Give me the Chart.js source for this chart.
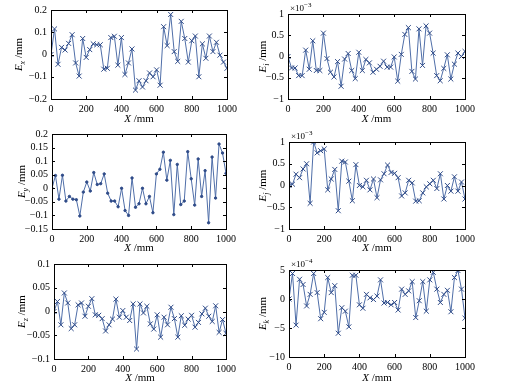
<!DOCTYPE html>
<html>
<head>
<meta charset="utf-8">
<script src="https://cdn.jsdelivr.net/npm/chart.js@4.4.0/dist/chart.umd.min.js"></script>
<style>
  body { margin: 0; background: #fff; }
  #wrap { position: relative; width: 518px; height: 385px; }
  canvas { position: absolute; }
</style>
</head>
<body>
<div id="wrap"></div>
<script>
// positions along the guide, mm
var xValues = [0,20,40,60,80,100,120,140,160,180,200,220,240,260,280,300,320,340,360,380,
  400,420,440,460,480,500,520,540,560,580,600,620,640,660,680,700,720,740,760,780,
  800,820,840,860,880,900,920,940,960,980,1000];

// Ex, mm
var exValues = [0,0.115,-0.044,0.032,0.02,0.05,0.089,-0.038,-0.097,0.072,-0.013,0.022,0.048,0.044,0.044,
  -0.066,-0.062,0.076,0.082,-0.048,0.076,-0.09,-0.038,0.025,-0.16,-0.118,-0.146,-0.118,-0.083,-0.1,
  -0.069,-0.138,0.125,0.04,0.18,0.013,-0.031,0.149,0.072,-0.034,0.062,0.083,-0.1,0.048,-0.017,
  0.083,0.013,0.055,-0.003,-0.034,-0.062];
// Ei, x10^-3 mm
var eiValues = [0,-0.27,-0.27,-0.45,-0.45,0.15,-0.3,0.37,-0.33,-0.33,0.55,-0.05,-0.37,-0.48,-0.12,
  -0.7,-0.06,0.07,-0.33,-0.52,0.1,-0.33,-0.07,-0.15,-0.37,-0.3,-0.23,-0.11,-0.25,-0.25,
  -0.01,-0.58,0.05,0.52,0.68,-0.35,-0.53,0.65,-0.21,0.72,0.55,0.08,-0.45,-0.57,-0.28,
  0.04,-0.53,-0.18,0.08,0.0,0.12];
// Ey, mm
var eyValues = [0,0.047,-0.04,0.048,-0.047,-0.03,-0.04,-0.042,-0.102,-0.014,0.023,-0.01,0.058,0.014,0.017,
  0.053,-0.018,-0.047,-0.047,-0.068,0,-0.082,-0.1,0.038,-0.07,-0.057,0,-0.057,-0.03,-0.09,
  0.053,0.07,0.133,0.03,0.103,-0.097,0.088,-0.06,-0.047,0.135,0.035,-0.062,0.108,-0.03,0.065,
  -0.127,0.115,-0.036,0.163,0.13,0.055];
// Ej, x10^-3 mm
var ejValues = [0,0.03,0.26,0.18,0.38,0.5,-0.41,1.0,0.75,0.8,0.84,-0.1,0.15,0.37,-0.58,
  0.56,0.54,0.1,-0.35,0.48,0,-0.03,0.12,-0.1,0.15,-0.28,0.13,0.27,0.47,0.3,
  0.28,0.18,-0.24,-0.17,0.12,0.06,-0.36,-0.35,-0.17,-0.03,0.04,0.12,-0.07,0.27,-0.31,
  0,-0.13,0.2,-0.13,0.08,-0.31];
// Ez, mm
var ezValues = [0,0.021,-0.028,0.039,0.018,-0.036,-0.028,0.014,0.018,-0.01,0.011,0.027,-0.007,-0.008,-0.015,
  -0.041,-0.028,-0.016,0.026,-0.012,0.002,-0.012,-0.019,0.016,-0.079,0.016,-0.003,0.011,-0.026,-0.037,
  -0.007,-0.054,-0.012,-0.028,0.009,-0.015,-0.054,-0.009,-0.029,-0.016,-0.008,-0.033,-0.023,-0.005,0.007,
  -0.01,-0.021,0.012,-0.044,-0.017,-0.046];
// Ek, x10^-4 mm
var ekValues = [0,4.4,-4.5,3.4,2.5,-1.2,0.8,4.4,1.1,-3.4,-2.3,3.7,1.1,2.3,-5.9,
  -1.5,-2.1,-4.8,4.1,4.1,-1.0,-1.6,0.8,0.2,-0.1,0.5,3.3,-0.7,-0.6,-1.0,
  -0.6,-1.9,1.7,0.8,1.4,3.0,-3.2,-0.3,3.0,-2.1,3.3,4.6,1.7,-0.6,0.8,
  1.5,-2.2,3.7,4.9,1.7,-3.3];

var FONT = "'Liberation Serif', 'DejaVu Serif', serif";
var LINE = '#4f6ea8';
var MARK = '#2f4b88';

function fmt(v) {
  var s = String(Number(v.toFixed(3)));
  return s.replace('-', '\u2212');
}

// box, inward ticks and the axis labels with sub/superscripts
var framePlugin = {
  id: 'frame',
  afterDraw: function (chart, args, o) {
    var ctx = chart.ctx, a = chart.chartArea;
    var xs = chart.scales.x, ys = chart.scales.y;
    ctx.save();
    ctx.strokeStyle = '#000';
    ctx.lineWidth = 1;
    ctx.strokeRect(Math.round(a.left) + 0.5, Math.round(a.top) + 0.5,
      Math.round(a.right - a.left), Math.round(a.bottom - a.top));
    ctx.beginPath();
    xs.ticks.forEach(function (t) {
      var px = Math.round(xs.getPixelForValue(t.value)) + 0.5;
      ctx.moveTo(px, a.bottom); ctx.lineTo(px, a.bottom - 3);
      ctx.moveTo(px, a.top); ctx.lineTo(px, a.top + 3);
    });
    ys.ticks.forEach(function (t) {
      var py = Math.round(ys.getPixelForValue(t.value)) + 0.5;
      ctx.moveTo(a.left, py); ctx.lineTo(a.left + 3, py);
      ctx.moveTo(a.right, py); ctx.lineTo(a.right - 3, py);
    });
    ctx.stroke();

    ctx.fillStyle = '#000';
    ctx.textBaseline = 'alphabetic';
    // x title
    var cx = (a.left + a.right) / 2;
    ctx.font = 'italic 11px ' + FONT;
    var w1 = ctx.measureText('X').width;
    ctx.font = '11px ' + FONT;
    var w2 = ctx.measureText(' /mm').width;
    var sx = cx - (w1 + w2) / 2;
    ctx.font = 'italic 11px ' + FONT;
    ctx.fillText('X', sx, o.xTitleY);
    ctx.font = '11px ' + FONT;
    ctx.fillText(' /mm', sx + w1, o.xTitleY);

    // y title, rotated
    ctx.save();
    ctx.translate(o.yTitleX, (a.top + a.bottom) / 2);
    ctx.rotate(-Math.PI / 2);
    ctx.font = 'italic 11px ' + FONT;
    var e = ctx.measureText('E').width;
    ctx.font = 'italic 8px ' + FONT;
    var s = ctx.measureText(o.sub).width;
    ctx.font = '11px ' + FONT;
    var m = ctx.measureText(' /mm').width;
    var st = -(e + s + m) / 2;
    ctx.font = 'italic 11px ' + FONT;
    ctx.fillText('E', st, 0);
    ctx.font = 'italic 8px ' + FONT;
    ctx.fillText(o.sub, st + e, 3);
    ctx.font = '11px ' + FONT;
    ctx.fillText(' /mm', st + e + s, 0);
    ctx.restore();

    // exponent above the axis
    if (o.exp) {
      ctx.font = '9px ' + FONT;
      var bx = a.left + 2;
      ctx.fillText('\u00d710', bx, a.top - 3);
      var bw = ctx.measureText('\u00d710').width;
      ctx.font = '7px ' + FONT;
      ctx.fillText(o.exp, bx + bw, a.top - 7);
    }
    ctx.restore();
  }
};

var YW = 30, XH = 14;

function panel(cell, box, values, yMin, yMax, yStep, cross, opts) {
  var c = document.createElement('canvas');
  c.width = cell.w; c.height = cell.h;
  c.style.left = cell.x + 'px'; c.style.top = cell.y + 'px';
  document.getElementById('wrap').appendChild(c);
  var pad = {
    left: box.l - cell.x - YW,
    top: box.t - cell.y,
    right: cell.x + cell.w - box.r,
    bottom: cell.y + cell.h - box.b - XH
  };
  opts.xTitleY = opts.xTitleY - cell.y;
  opts.yTitleX = opts.yTitleX - cell.x;
  new Chart(c, {
    type: 'line',
    data: {
      datasets: [{
        data: xValues.map(function (x, i) { return {x: x, y: values[i]}; }),
        borderColor: LINE,
        borderWidth: 1,
        pointStyle: cross ? 'crossRot' : 'circle',
        pointRadius: cross ? 3.5 : 1.2,
        pointBorderColor: MARK,
        pointBackgroundColor: MARK,
        pointBorderWidth: 1,
        tension: 0
      }]
    },
    options: {
      responsive: false,
      animation: false,
      events: [],
      layout: {padding: pad},
      plugins: {legend: {display: false}, tooltip: {enabled: false}, frame: opts},
      scales: {
        x: {
          type: 'linear', min: 0, max: 1000,
          afterFit: function (s) { s.height = XH; },
          grid: {display: false, drawTicks: false},
          border: {display: false},
          ticks: {stepSize: 200, padding: 4, color: '#000', maxRotation: 0, autoSkip: false,
            font: {family: FONT, size: 10}, callback: function (v) { return fmt(v); }}
        },
        y: {
          min: yMin, max: yMax,
          afterFit: function (s) { s.width = YW; },
          grid: {display: false, drawTicks: false},
          border: {display: false},
          ticks: {stepSize: yStep, padding: 4, color: '#000', autoSkip: false,
            font: {family: FONT, size: 10}, callback: function (v) { return fmt(v); }}
        }
      }
    },
    plugins: [framePlugin]
  });
}

var L = {x: 0, w: 259}, R = {x: 259, w: 259};
var row1 = {y: 0, h: 124}, row2 = {y: 124, h: 128}, row3 = {y: 252, h: 133};
function cell(col, row) { return {x: col.x, w: col.w, y: row.y, h: row.h}; }

panel(cell(L, row1), {l: 51, t: 5, r: 227, b: 99}, exValues, -0.2, 0.2, 0.1, true,
  {sub: 'x', xTitleY: 122, yTitleX: 22});
panel(cell(R, row1), {l: 288, t: 14, r: 465, b: 99}, eiValues, -1, 1, 0.5, true,
  {sub: 'i', xTitleY: 122, yTitleX: 266, exp: '\u22123'});
panel(cell(L, row2), {l: 52, t: 130, r: 226, b: 229}, eyValues, -0.15, 0.2, 0.05, false,
  {sub: 'y', xTitleY: 251, yTitleX: 25});
panel(cell(R, row2), {l: 289, t: 142, r: 465, b: 229}, ejValues, -1, 1, 0.5, true,
  {sub: 'j', xTitleY: 251, yTitleX: 266, exp: '\u22123'});
panel(cell(L, row3), {l: 54, t: 264, r: 226, b: 359}, ezValues, -0.1, 0.1, 0.05, true,
  {sub: 'z', xTitleY: 381, yTitleX: 25});
panel(cell(R, row3), {l: 289, t: 270, r: 465, b: 357}, ekValues, -10, 5, 5, true,
  {sub: 'k', xTitleY: 381, yTitleX: 266, exp: '\u22124'});
</script>
</body>
</html>
